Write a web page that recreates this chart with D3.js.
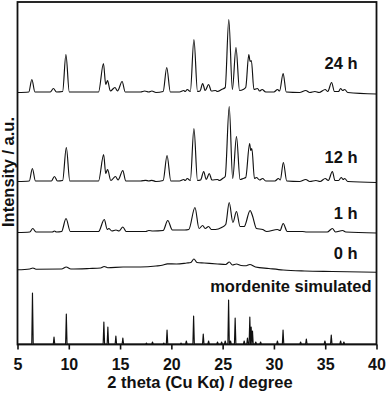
<!DOCTYPE html>
<html><head><meta charset="utf-8">
<script src="https://cdn.jsdelivr.net/npm/d3@7/dist/d3.min.js"></script>
<style>
html,body{margin:0;padding:0;background:#fff;}
svg text{font-family:"Liberation Sans",Arial,Helvetica,sans-serif;font-weight:bold;fill:#111;}
</style></head>
<body><svg id="c" width="386" height="393"></svg>
<script>
// x ticks
const xTicks = [5,10,15,20,25,30,35,40];
// series names and vertical offsets (arbitrary units)
const seriesNames = ["mordenite simulated","0 h","1 h","12 h","24 h"];
const seriesOffsets = [0.5, 75, 112, 163, 252];

// simulated pattern: [2theta, intensity]
const simPeaks = [[6.46,51],[8.56,7],[9.76,30],[13.42,22],[13.81,17],[14.59,8],[15.27,6],[17.57,1],[18.16,2],[19.26,1],[19.58,14],[20.94,1],[21.46,3],[22.17,28],[23.11,10],[23.63,3],[24.5,2],[24.9,2],[25.25,3],[25.58,44],[25.77,3],[26.22,26],[27.1,3],[27.42,6],[27.65,27],[27.78,17],[27.91,13],[28.23,2],[28.7,2],[30.34,3],[30.89,14],[32.6,2],[33.16,5],[34.97,3],[35.59,9],[36.5,3],[36.82,2]];

const data0h = [[5,-0.3],[6.2,0.5],[6.5,1.5],[6.8,0.3],[9.3,0.5],[9.75,2.5],[10.2,0.5],[12,1],[13.1,1.5],[13.45,3],[13.8,1.8],[15.3,2.5],[17,2.5],[18.5,3.5],[19.2,4.5],[19.6,5.7],[20.5,5.5],[21.5,6.5],[21.9,7],[22.2,10.5],[22.5,7],[23.2,6.5],[24.5,5.5],[25.3,5],[25.65,7.5],[25.95,4.5],[26.35,5.5],[26.8,4],[27.3,3.8],[27.65,5],[28.2,2.5],[29.5,1],[30.9,-0.5],[33,-1.5],[35.7,-2],[40,-2.7]];

const data1h = [[5,0],[6.2,0.5],[6.49,4],[6.8,0.5],[8.4,0.5],[8.6,1.5],[8.8,0.5],[9.3,1],[9.73,14],[10.15,1],[12.9,1],[13.46,13],[13.75,3],[13.9,4],[14.2,1.5],[14.6,2.5],[14.9,1.5],[15.27,5.5],[15.6,1],[17.5,1],[17.8,2],[18.2,1.5],[19.2,2],[19.65,12],[20.1,2.5],[21.3,2.5],[21.7,3],[22.3,25],[22.7,4],[23.05,7],[23.3,4],[23.63,6],[23.9,3],[24.3,3],[24.9,5],[25.3,8],[25.64,30],[26.0,10],[26.35,21],[26.7,6],[27.1,6],[27.68,22],[27.9,17],[28.3,4],[28.9,3],[29.3,1],[30.34,3],[30.6,2],[30.9,9],[31.3,1],[32.8,1],[33.2,0.5],[35.2,0.5],[35.7,4],[36.0,0.5],[36.7,2],[37,0.5],[40,-0.5]];

const data12h = [[5,0],[6.15,0.5],[6.45,13],[6.75,0.5],[8.3,0.5],[8.6,5],[8.9,0.5],[9.4,1],[9.76,34],[10.1,0.5],[12.9,0.5],[13.4,27],[13.6,8],[13.78,12],[14.1,1],[14.55,5],[14.8,1.5],[15.27,11],[15.55,0.5],[17,0.5],[17.5,1.2],[17.8,0.5],[18.1,1.2],[18.5,0],[19.2,1],[19.58,26],[19.95,0.5],[20.8,0.5],[21.2,2],[21.35,1],[21.55,3],[21.85,1],[22.2,53],[22.55,1],[22.85,1.5],[23.15,10],[23.4,2],[23.7,8],[23.95,1.5],[24.5,2],[24.7,1],[25.0,3],[25.25,5],[25.64,75],[25.98,3],[26.35,45],[26.7,2],[27.0,3],[27.25,4],[27.63,38],[27.74,31],[27.85,33],[28.1,3],[28.3,4],[28.6,1.5],[28.9,3],[29.2,0.5],[30.1,0.5],[30.44,3],[30.62,1.5],[30.92,19],[31.25,0.5],[32.5,0],[33.1,2],[33.5,0],[34.1,1],[34.5,0],[35.0,3],[35.3,1],[35.7,10],[35.95,1],[36.3,1],[36.56,4],[36.75,2],[36.9,3],[37.2,0],[40,-1]];

const data24h = [[5,0],[6.1,0.5],[6.4,13],[6.7,0.5],[8.2,0.5],[8.5,4],[8.8,0.5],[9.4,1],[9.72,38],[10.05,0.5],[12.9,0.5],[13.38,29],[13.6,8],[13.78,12],[14.05,1.5],[14.5,5],[14.75,1.5],[15.2,11],[15.5,0.5],[17,0.5],[17.4,1.5],[17.8,0.5],[18.1,1.5],[18.5,0],[19.2,1],[19.55,25],[19.9,0.5],[20.8,0.5],[21.2,2],[21.35,1],[21.55,3],[21.85,1],[22.2,53],[22.55,1],[22.8,1.5],[23.05,9],[23.3,2],[23.63,8],[23.9,1.5],[24.3,2],[24.5,1],[24.9,3],[25.25,5],[25.6,73],[25.95,3],[26.3,45],[26.65,2],[27.0,3],[27.25,5],[27.55,38],[27.68,31],[27.8,32],[28.05,3],[28.4,4],[28.6,1.5],[28.85,3],[29.2,0.5],[30.0,0.5],[30.35,3],[30.55,1.5],[30.9,19],[31.2,0.5],[32.5,0],[33.1,2],[33.5,0],[34.0,1],[34.4,0],[35.0,3],[35.25,1],[35.62,10],[35.9,1],[36.3,1],[36.5,4],[36.7,2],[36.9,3],[37.2,0],[40,-1.5]];

const svg = d3.select("#c");
const L = 17.5, R = 376.5, T = 2, B = 344.5;
const x = d3.scaleLinear().domain([5,40]).range([L,R]);
const y = d3.scaleLinear().domain([0,342.5]).range([B,T]);

svg.append("clipPath").attr("id","pc").append("rect")
  .attr("x",L).attr("y",T).attr("width",R-L).attr("height",B-T);

const g = svg.append("g").attr("clip-path","url(#pc)");

// simulated drawn as stick-like narrow peaks on a flat baseline
const simW = 0.07;
const simData = [[5,0]];
simPeaks.forEach(p => { simData.push([p[0]-simW,0],[p[0],p[1]],[p[0]+simW,0]); });
simData.push([40,0]);

const allSeries = [simData, data0h, data1h, data12h, data24h];

allSeries.forEach((s,i) => {
  const off = seriesOffsets[i];
  const line = d3.line()
    .x(d => x(d[0]))
    .y(d => y(d[1] + off))
    .curve(i === 0 ? d3.curveLinear : d3.curveMonotoneX);
  g.append("path").datum(s).attr("d", line)
    .attr("fill","none").attr("stroke","#111")
    .attr("stroke-width", 1.15).attr("stroke-linejoin","round");
});

// frame
svg.append("rect").attr("x",L).attr("y",T).attr("width",R-L).attr("height",B-T)
  .attr("fill","none").attr("stroke","#111").attr("stroke-width",1.8);

// x axis
const ax = svg.append("g").attr("transform",`translate(0,${B})`)
  .call(d3.axisBottom(x).tickValues(xTicks).tickSize(5).tickPadding(9).tickFormat(d3.format("d")));
ax.select(".domain").remove();
ax.selectAll(".tick line").attr("stroke","#111").attr("stroke-width",1.6);
ax.selectAll(".tick text").attr("font-size",16).style("font-family",'"Liberation Sans",Arial,sans-serif').style("font-weight","bold").attr("fill","#111");

// axis titles
svg.append("text").attr("x",(L+R)/2+3).attr("y",388).attr("text-anchor","middle")
  .attr("font-size",16.5).text("2 theta (Cu K\u03b1) / degree");
svg.append("text").attr("transform","translate(13.5,172) rotate(-90)")
  .attr("text-anchor","middle").attr("font-size",16.5).text("Intensity / a.u.");

// series labels
const labelPos = [[371.5,292],[357.5,259],[357.5,218.5],[357.5,163],[357.5,69]];
seriesNames.forEach((n,i) => {
  svg.append("text").attr("x",labelPos[i][0]).attr("y",labelPos[i][1])
    .attr("text-anchor","end").attr("font-size",16.5).text(n);
});
</script></body></html>
